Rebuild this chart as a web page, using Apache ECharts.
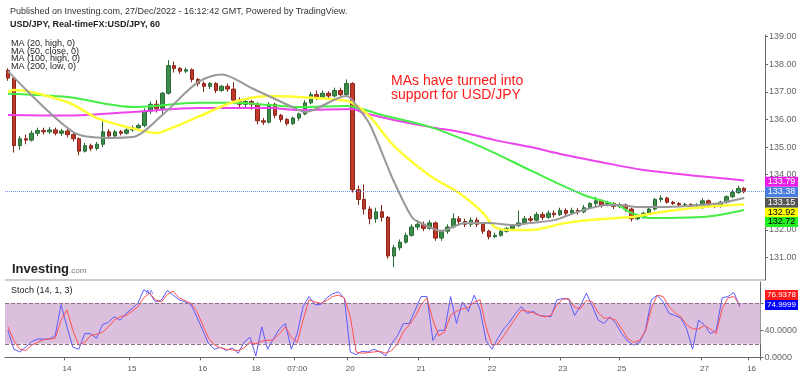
<!DOCTYPE html>
<html>
<head>
<meta charset="utf-8">
<script src="https://cdn.jsdelivr.net/npm/echarts@6/dist/echarts.min.js"></script>
<style>html,body{margin:0;padding:0;background:#fff}#chart{width:800px;height:376px}</style>
</head>
<body>
<div id="chart"></div>
<script>
// x axis day labels and the category index they sit on (2-hour bars)
const dayLabels = ['14', '15', '16', '18', '07:00', '20', '21', '22', '23', '25', '27', '16'];
const dayLabelIdx = [10, 21, 33, 42, 49, 58, 70, 82, 94, 104, 118, 126];

// USD/JPY candles [open, close, low, high]
const candles = [
  [137.78,137.50,137.40,137.85],[137.50,135.05,134.80,137.55],[135.05,135.30,134.90,135.40],[135.30,135.25,135.10,135.45],
  [135.25,135.50,135.20,135.60],[135.50,135.60,135.40,135.70],[135.60,135.55,135.45,135.70],[135.55,135.62,135.48,135.72],
  [135.62,135.50,135.42,135.70],[135.50,135.58,135.40,135.66],[135.58,135.45,135.35,135.65],[135.45,135.30,135.20,135.55],
  [135.30,134.85,134.70,135.35],[134.85,135.05,134.80,135.15],[135.05,134.95,134.85,135.12],[134.95,135.10,134.88,135.18],
  [135.10,135.55,135.00,135.95],[135.55,135.40,135.30,135.65],[135.40,135.55,135.35,135.62],[135.55,135.50,135.42,135.62],
  [135.50,135.62,135.45,135.68],[135.62,135.70,135.55,135.78],[135.70,135.78,135.62,135.85],[135.78,136.30,135.72,136.40],
  [136.30,136.55,136.20,136.65],[136.55,136.40,136.25,136.70],[136.40,136.95,136.15,137.00],[136.95,137.95,136.90,138.15],
  [137.95,137.85,137.70,138.10],[137.85,137.75,137.65,137.90],[137.75,137.80,137.68,137.88],[137.80,137.45,137.35,137.85],
  [137.45,137.30,137.20,137.50],[137.30,137.20,137.00,137.38],[137.20,137.30,137.10,137.35],[137.30,137.05,136.95,137.35],
  [137.05,137.20,137.00,137.25],[137.20,137.10,137.00,137.30],[137.10,136.70,136.60,137.35],[136.70,136.55,136.45,136.80],
  [136.55,136.65,136.40,136.75],[136.65,136.55,136.35,136.70],[136.55,135.95,135.82,136.62],[135.95,135.90,135.80,136.05],
  [135.90,136.55,135.85,136.62],[136.55,136.15,136.05,136.60],[136.15,136.00,135.90,136.20],[136.00,135.85,135.78,136.05],
  [135.85,136.05,135.80,136.10],[136.05,136.20,135.95,136.25],[136.20,136.60,136.15,136.70],[136.60,136.90,136.55,137.00],
  [136.90,136.80,136.70,137.05],[136.80,136.95,136.75,137.05],[136.95,136.85,136.75,137.02],[136.85,137.05,136.80,137.15],
  [137.05,136.90,136.85,137.15],[136.90,137.30,136.85,137.45],[137.30,133.45,133.35,137.35],[133.45,133.10,132.90,133.60],
  [133.10,132.75,132.55,133.65],[132.75,132.40,132.20,132.85],[132.40,132.65,132.25,132.80],[132.65,132.45,132.30,132.90],
  [132.45,131.05,130.95,132.50],[131.05,131.35,130.65,131.45],[131.35,131.55,131.25,131.65],[131.55,131.80,131.50,131.90],
  [131.80,132.10,131.75,132.20],[132.10,132.20,132.00,132.35],[132.20,132.05,131.95,132.30],[132.05,132.25,132.00,132.35],
  [132.25,131.70,131.60,132.30],[131.70,131.95,131.60,132.00],[131.95,132.10,131.85,132.20],[132.10,132.40,132.05,132.60],
  [132.40,132.30,132.15,132.50],[132.30,132.20,132.10,132.40],[132.20,132.35,132.10,132.45],[132.35,132.20,132.10,132.45],
  [132.20,131.95,131.85,132.25],[131.95,131.75,131.65,132.00],[131.75,131.80,131.70,131.90],[131.80,131.95,131.75,132.00],
  [131.95,132.05,131.90,132.10],[132.05,132.15,132.00,132.20],[132.15,132.25,132.10,132.70],[132.25,132.40,132.20,132.50],
  [132.40,132.35,132.25,132.50],[132.35,132.55,132.30,132.65],[132.55,132.45,132.35,132.65],[132.45,132.60,132.40,132.70],
  [132.60,132.55,132.45,132.70],[132.55,132.70,132.50,132.80],[132.70,132.60,132.50,132.78],[132.60,132.70,132.55,132.80],
  [132.70,132.65,132.55,132.78],[132.65,132.80,132.60,132.90],[132.80,132.95,132.75,133.00],[132.95,133.05,132.85,133.20],
  [133.05,132.90,132.80,133.10],[132.90,132.95,132.85,133.05],[132.95,132.85,132.75,133.00],[132.85,132.90,132.78,132.98],
  [132.90,132.75,132.65,132.95],[132.75,132.40,132.30,132.80],[132.40,132.45,132.35,132.55],[132.45,132.60,132.40,132.65],
  [132.60,132.75,132.55,132.80],[132.75,133.10,132.70,133.15],[133.10,133.15,133.00,133.25],[133.15,133.00,132.95,133.20],
  [133.00,132.95,132.90,133.05],[132.95,132.90,132.85,133.00],[132.90,132.92,132.85,132.98],[132.92,132.88,132.82,132.96],
  [132.88,132.90,132.82,132.96],[132.90,133.05,132.75,133.15],[133.05,132.90,132.80,133.10],[132.90,132.85,132.78,132.95],
  [132.85,133.00,132.80,133.05],[133.00,133.20,132.95,133.25],[133.20,133.35,133.15,133.45],[133.35,133.50,133.30,133.60],
  [133.50,133.38,133.32,133.55]
];

// moving averages, [bar index, price]
const ma20 = [[0,137.75],[11,135.54],[17,135.33],[21,135.36],[26,136.16],[32,137.35],[36,137.63],[41,137.14],[49,136.34],
  [50,136.27],[57,136.85],[59,136.41],[61,135.80],[65,133.75],[68,132.46],[69,132.30],[73,131.96],[77,132.25],[81,132.25],
  [85,132.17],[88,132.25],[92,132.35],[96,132.65],[101,132.90],[103,132.90],[106,132.83],[111,132.83],[117,132.90],[120,132.97],[124,133.15]];
const ma50 = [[0,137.00],[1,137.07],[10,136.63],[15,136.05],[22,135.62],[25,135.51],[28,135.73],[32,136.09],[38,136.63],
  [44,136.85],[49,136.81],[56,136.70],[58,136.60],[61,136.09],[65,135.04],[71,133.97],[76,133.33],[80,132.61],[82,132.10],
  [85,131.99],[88,131.99],[94,132.25],[100,132.39],[105,132.46],[109,132.61],[114,132.75],[119,132.86],[124,132.92]];
const ma100 = [[0,136.93],[10,136.81],[21,136.45],[32,136.60],[38,136.60],[44,136.52],[49,136.45],[57,136.49],[63,136.16],
  [71,135.73],[77,135.25],[82,134.78],[88,134.15],[97,133.26],[103,132.86],[105,132.61],[108,132.43],[111,132.43],[117,132.46],[124,132.72]];
const ma200 = [[0,136.16],[10,136.14],[21,136.27],[32,136.41],[44,136.41],[49,136.34],[58,136.38],[60,136.23],[65,135.98],
  [71,135.73],[77,135.51],[82,135.25],[88,135.00],[93,134.75],[100,134.45],[107,134.17],[124,133.79]];

// Stoch (14, 1, 3): %K blue, %D red
const stochK = [40,12,8,15,23,27,27,27,32,78,45,15,12,35,35,28,48,52,60,55,65,72,80,100,95,82,85,99,92,85,82,78,60,40,20,12,
  15,10,14,6,22,30,2,45,12,28,42,50,12,35,75,90,78,78,88,94,97,87,8,4,9,8,12,8,2,20,32,50,50,70,90,90,25,40,40,90,50,82,68,
  92,70,25,12,28,42,52,65,75,65,68,62,61,60,85,87,86,62,76,95,76,55,50,60,50,35,24,18,22,40,85,92,82,65,62,58,42,12,55,48,35,
  40,88,90,96,74.9999];
const stochD = [45,25,12,10,18,22,26,27,28,55,70,40,18,22,32,34,37,45,55,60,62,68,75,88,95,85,82,93,98,88,84,80,68,48,28,18,
  14,12,11,10,14,22,20,24,25,26,35,45,30,22,55,85,82,80,84,90,92,88,60,8,6,7,8,9,6,10,20,38,48,60,78,88,55,32,38,62,68,72,74,
  82,85,45,18,20,32,45,58,70,68,66,62,60,62,78,86,87,74,72,84,82,66,58,58,55,42,28,22,25,38,72,92,90,75,66,60,48,42,42,47,42,
  35,72,88,90,76.9378];

const priceTicks = [131, 132, 133, 134, 135, 136, 137, 138, 139];
const priceLabels = [131, 132, 134, 135, 136, 137, 138, 139];
const stochTicks = [0, 40, 80];
const stochLabels = [0, 40];

const FONT = 'Liberation Sans, Arial, sans-serif';
const N = 128;
const categories = Array.from({ length: N }, (_, i) => {
  const k = dayLabelIdx.indexOf(i);
  return k >= 0 ? dayLabels[k] : '';
});
const lastClose = candles[candles.length - 1][1];
const lastOf = a => a[a.length - 1];

function txt(x, y, text, font, fill, align) {
  return { type: 'text', x: x, y: y, z: 100,
    style: { text: text, font: font, fill: fill, textAlign: align || 'left', align: align || 'left',
      textVerticalAlign: 'middle', verticalAlign: 'middle' } };
}
function tag(cy, text, bg, fg, size) {
  return { type: 'group', z: 100, children: [
    { type: 'rect', shape: { x: 765, y: cy - 5, width: 33, height: 10 }, style: { fill: bg }, z: 100 },
    txt(781.5, cy, text, (size || 9) + 'px ' + FONT, fg, 'center')
  ] };
}

const chart = echarts.init(document.getElementById('chart'));
const option = {
  animation: false,
  backgroundColor: '#fff',
  grid: [
    { left: 5, right: 35, top: 35, height: 245 },
    { left: 5, right: 35, top: 282, height: 77 }
  ],
  xAxis: [
    { type: 'category', gridIndex: 0, data: categories, show: false },
    { type: 'category', gridIndex: 1, data: categories,
      axisLine: { lineStyle: { color: '#666' } },
      axisTick: { show: true, length: 3, interval: (i) => categories[i] !== '', lineStyle: { color: '#666' } },
      axisLabel: { interval: (i) => categories[i] !== '', fontSize: 8, color: '#555', margin: 6, fontFamily: FONT } }
  ],
  yAxis: [
    { type: 'value', gridIndex: 0, position: 'right', min: 130.18, max: 139.06,
      splitLine: { show: false },
      axisLine: { show: true, lineStyle: { color: '#666' } },
      axisTick: { show: true, length: 3, customValues: priceTicks, lineStyle: { color: '#666' } },
      axisLabel: { customValues: priceLabels, formatter: v => v.toFixed(2), color: '#666', fontSize: 9, margin: 4, fontFamily: FONT } },
    { type: 'value', gridIndex: 1, position: 'right', min: -2.5, max: 111.5,
      splitLine: { show: false },
      axisLine: { show: true, lineStyle: { color: '#666' } },
      axisTick: { show: true, length: 3, customValues: stochTicks, lineStyle: { color: '#666' } },
      axisLabel: { customValues: stochLabels, formatter: v => v.toFixed(4), color: '#666', fontSize: 9, margin: 4, fontFamily: FONT } }
  ],
  series: [
    { type: 'candlestick', xAxisIndex: 0, yAxisIndex: 0, data: candles, barWidth: 4, z: 2,
      itemStyle: { color: '#3c8c4a', color0: '#c0392b', borderColor: '#2a6b35', borderColor0: '#8a2419', borderWidth: 1 },
      markLine: { silent: true, symbol: 'none', label: { show: false },
        lineStyle: { color: '#7b96e6', type: 'dotted', width: 1 }, data: [{ yAxis: lastClose }] } },
    { type: 'line', name: 'MA200', data: ma200, showSymbol: false, smooth: 0.3, z: 3, lineStyle: { color: '#ee44ee', width: 2 } },
    { type: 'line', name: 'MA100', data: ma100, showSymbol: false, smooth: 0.3, z: 3, lineStyle: { color: '#44ee44', width: 2 } },
    { type: 'line', name: 'MA50', data: ma50, showSymbol: false, smooth: 0.3, z: 3, lineStyle: { color: '#ffff33', width: 2.5 } },
    { type: 'line', name: 'MA20', data: ma20, showSymbol: false, smooth: 0.3, z: 3, lineStyle: { color: '#999', width: 2 } },
    { type: 'line', name: '%K', xAxisIndex: 1, yAxisIndex: 1, data: stochK, showSymbol: false, z: 3,
      lineStyle: { color: '#5b5bff', width: 1 },
      markArea: { silent: true, itemStyle: { color: '#dcbfdc' }, data: [[{ yAxis: 20 }, { yAxis: 80 }]] },
      markLine: { silent: true, symbol: 'none', label: { show: false },
        lineStyle: { color: '#8c6f8c', type: 'dashed', width: 1 }, data: [{ yAxis: 20 }, { yAxis: 80 }] } },
    { type: 'line', name: '%D', xAxisIndex: 1, yAxisIndex: 1, data: stochD, showSymbol: false, z: 3,
      lineStyle: { color: '#ff5050', width: 1 } }
  ],
  graphic: [
    txt(10, 12, 'Published on Investing.com, 27/Dec/2022 - 16:12:42 GMT, Powered by TradingView.', '9px ' + FONT, '#333'),
    txt(10, 25, 'USD/JPY, Real-timeFX:USD/JPY, 60', 'bold 9px ' + FONT, '#222'),
    txt(11, 44, 'MA (20, high, 0)', '9px ' + FONT, '#222'),
    txt(11, 51.5, 'MA (50, close, 0)', '9px ' + FONT, '#222'),
    txt(11, 59, 'MA (100, high, 0)', '9px ' + FONT, '#222'),
    txt(11, 66.5, 'MA (200, low, 0)', '9px ' + FONT, '#222'),
    txt(391, 81, 'MAs have turned into', '14px ' + FONT, '#ff1a1a'),
    txt(391, 95, 'support for USD/JPY', '14px ' + FONT, '#ff1a1a'),
    txt(12, 269, 'Investing', 'bold 13px ' + FONT, '#222'),
    txt(69, 271, '.com', '8px ' + FONT, '#777'),
    { type: 'line', z: 100, shape: { x1: 5, y1: 280, x2: 765, y2: 280 }, style: { stroke: '#bbb', lineWidth: 1.5 } },
    txt(11, 291, 'Stoch (14, 1, 3)', '9px ' + FONT, '#222'),
    txt(146, 292, 'ʌʌ', '7px ' + FONT, '#5b5bff'),
    tag(181.7, lastOf(ma200)[1].toFixed(2), '#e81ee8', '#fff'),
    tag(192, lastClose.toFixed(2), '#4a7de0', '#fff'),
    tag(202.7, lastOf(ma20)[1].toFixed(2), '#555', '#fff'),
    tag(212.7, lastOf(ma50)[1].toFixed(2), '#ffff00', '#000'),
    tag(222, lastOf(ma100)[1].toFixed(2), '#22ee22', '#000'),
    tag(295, lastOf(stochD).toFixed(4), '#ff1a1a', '#fff', 8),
    tag(305, lastOf(stochK).toFixed(4), '#0000ff', '#fff', 8)
  ]
};
chart.setOption(option);
window.onresize = function () { chart.resize(); };
</script>
</body>
</html>
